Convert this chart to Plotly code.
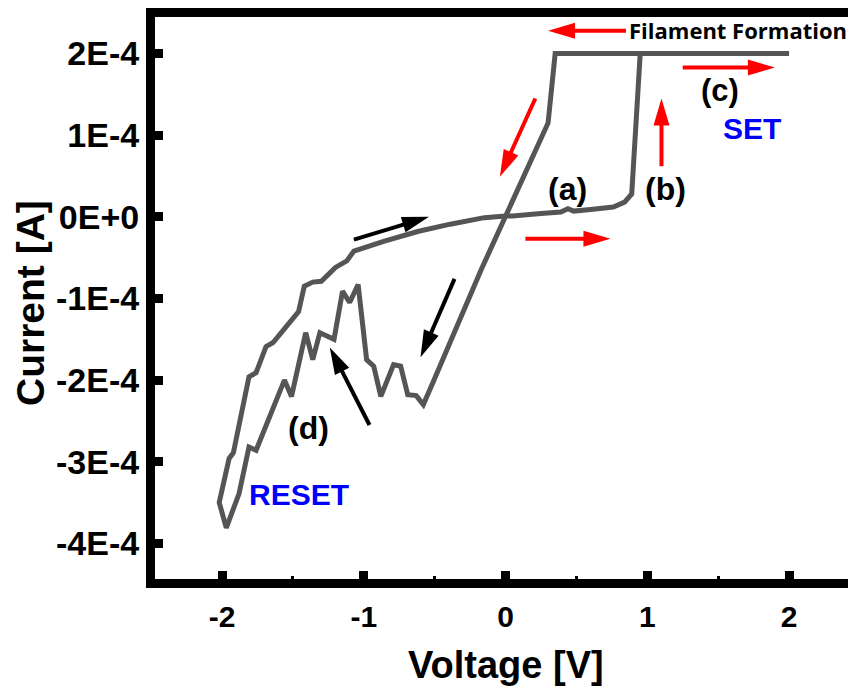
import math
import plotly.graph_objects as go

# I-V sweep (voltage in V, current in A)
voltage = [0.00, 0.05, 0.25, 0.39, 0.44, 0.48, 0.60, 0.76, 0.84, 0.89, 0.95, 2.00,
           0.35, 0.30, 0.00, -0.17, -0.51, -0.58, -0.63, -0.69, -0.74, -0.79, -0.88,
           -0.93, -0.98, -1.04, -1.10, -1.15, -1.21, -1.31, -1.36, -1.41, -1.51, -1.56,
           -1.76, -1.81, -1.88, -1.97, -2.02, -1.95, -1.92, -1.81, -1.76, -1.69, -1.64,
           -1.55, -1.46, -1.42, -1.36, -1.30, -1.24, -1.20, -1.12, -1.07, -0.86, -0.62,
           -0.39, -0.15, 0.00]
current = [0.01e-4, 0.01e-4, 0.04e-4, 0.06e-4, 0.10e-4, 0.07e-4, 0.09e-4, 0.12e-4, 0.18e-4,
           0.28e-4, 2.00e-4, 2.00e-4,
           2.00e-4, 1.15e-4, 0.00e-4, -0.64e-4, -2.02e-4, -2.30e-4, -2.19e-4, -2.18e-4,
           -1.83e-4, -1.81e-4, -2.20e-4,
           -1.83e-4, -1.75e-4, -0.83e-4, -1.05e-4, -0.91e-4, -1.50e-4, -1.42e-4, -1.75e-4,
           -1.42e-4, -2.20e-4, -2.00e-4,
           -2.86e-4, -2.82e-4, -3.39e-4, -3.81e-4, -3.50e-4, -2.96e-4, -2.89e-4, -1.96e-4,
           -1.91e-4, -1.59e-4, -1.54e-4,
           -1.34e-4, -1.16e-4, -0.85e-4, -0.80e-4, -0.79e-4, -0.68e-4, -0.62e-4, -0.54e-4,
           -0.42e-4, -0.30e-4, -0.18e-4,
           -0.09e-4, -0.01e-4, 0.01e-4]

x_tickvals = [-2, -1, 0, 1, 2]
x_ticktext = ["-2", "-1", "0", "1", "2"]
y_tickvals = [2e-4, 1e-4, 0, -1e-4, -2e-4, -3e-4, -4e-4]
y_ticktext = ["2E-4", "1E-4", "0E+0", "-1E-4", "-2E-4", "-3E-4", "-4E-4"]

# direction arrows: (tail V, tail I, head V, head I, colour)
arrows = [
    (0.85, 2.28e-4, 0.30, 2.28e-4, "#FF0000"),
    (1.25, 1.83e-4, 1.90, 1.83e-4, "#FF0000"),
    (1.10, 0.62e-4, 1.10, 1.45e-4, "#FF0000"),
    (0.21, 1.45e-4, -0.04, 0.49e-4, "#FF0000"),
    (0.14, -0.27e-4, 0.74, -0.27e-4, "#FF0000"),
    (-1.07, -0.28e-4, -0.54, 0.00e-4, "black"),
    (-0.36, -0.76e-4, -0.60, -1.72e-4, "black"),
    (-0.96, -2.55e-4, -1.24, -1.60e-4, "black"),
]

FONT = "Liberation Sans, Arial, sans-serif"

# the page body keeps its default 8 px margin, so the figure starts 8 px in;
# it ends exactly at the window's right edge and 8 px above its bottom
W_FIG, H_FIG = 848, 679
ML, MR, MT, MB = 147, 4, 9, 108
XR = [-2.473, 2.444]
YR = [-4.437e-4, 2.448e-4]
PW, PH = W_FIG - ML - MR, H_FIG - MT - MB

fig = go.Figure()
fig.add_trace(go.Scatter(x=voltage, y=current, mode="lines",
                         line=dict(color="#555555", width=5), showlegend=False,
                         hoverinfo="skip"))

axis_common = dict(showline=True, linecolor="black", linewidth=9, mirror=True,
                   showgrid=False, zeroline=False, ticks="inside", tickcolor="black",
                   tickwidth=9, ticklen=8, automargin=False)

fig.update_xaxes(range=XR, tickvals=x_tickvals, ticktext=x_ticktext,
                 ticklabelstandoff=3,
                 tickfont=dict(family=FONT, size=30, color="black", weight="bold"),
                 minor=dict(ticks="inside", ticklen=3, tickwidth=3, dtick=0.5, tick0=0,
                            tickcolor="black"),
                 **axis_common)
fig.update_yaxes(range=YR, tickvals=y_tickvals, ticktext=y_ticktext,
                 ticklabelstandoff=0,
                 tickfont=dict(family=FONT, size=34, color="black", weight="bold"),
                 **axis_common)


# arrows drawn in paper coordinates (pixel-accurate head geometry)
def to_px(v, i):
    return (ML + (v - XR[0]) / (XR[1] - XR[0]) * PW,
            MT + (YR[1] - i) / (YR[1] - YR[0]) * PH)


def to_paper(px, py):
    return ((px - ML) / PW, 1 - (py - MT) / PH)


HEAD_LEN, HEAD_W, SHAFT_W = 27, 16, 4
for tv, ti, hv, hi, col in arrows:
    tx, ty = to_px(tv, ti)
    hx, hy = to_px(hv, hi)
    d = math.hypot(hx - tx, hy - ty)
    ux, uy = (hx - tx) / d, (hy - ty) / d
    bx, by = hx - ux * HEAD_LEN, hy - uy * HEAD_LEN
    nx, ny = -uy, ux
    p0 = to_paper(tx, ty)
    p1 = to_paper(bx + ux * 2, by + uy * 2)
    fig.add_shape(type="line", xref="paper", yref="paper", x0=p0[0], y0=p0[1],
                  x1=p1[0], y1=p1[1], line=dict(color=col, width=SHAFT_W))
    pts = [(hx, hy), (bx + nx * HEAD_W / 2, by + ny * HEAD_W / 2),
           (bx - nx * HEAD_W / 2, by - ny * HEAD_W / 2)]
    pp = [to_paper(*p) for p in pts]
    path = "M {:.5f},{:.5f} L {:.5f},{:.5f} L {:.5f},{:.5f} Z".format(
        pp[0][0], pp[0][1], pp[1][0], pp[1][1], pp[2][0], pp[2][1])
    fig.add_shape(type="path", xref="paper", yref="paper", path=path,
                  fillcolor=col, line=dict(color=col, width=0))


def label(x, y, text, size, color="black", family=FONT, xanchor="center"):
    fig.add_annotation(x=x, y=y, xref="x", yref="y", text=text, showarrow=False,
                       xanchor=xanchor, yanchor="middle",
                       font=dict(family=family, size=size, color=color, weight="bold"))


label(0.86, 2.29e-4, "Filament Formation", 22, family="Open Sans, sans-serif", xanchor="left")
label(1.51, 1.55e-4, "(c)", 31)
label(1.74, 1.08e-4, "SET", 30, color="#0000FF")
label(1.13, 0.34e-4, "(b)", 32)
label(0.44, 0.34e-4, "(a)", 32)
label(-1.39, -2.59e-4, "(d)", 32)
label(-1.46, -3.40e-4, "RESET", 30, color="#0000FF")

# axis titles
fig.add_annotation(x=0, y=0, xref="x", yref="paper", yshift=-86, text="Voltage [V]",
                   showarrow=False, xanchor="center", yanchor="middle",
                   font=dict(family=FONT, size=38, color="black", weight="bold"))
fig.add_annotation(x=0, y=0.5, xref="paper", yref="paper", xshift=-125, yshift=-5,
                   text="Current [A]",
                   showarrow=False, xanchor="center", yanchor="middle", textangle=-90,
                   font=dict(family=FONT, size=39, color="black", weight="bold"))

fig.update_layout(width=W_FIG, height=H_FIG,
                  margin=dict(l=ML, r=MR, t=MT, b=MB, autoexpand=False),
                  plot_bgcolor="white", paper_bgcolor="white")

fig.write_html("out.html", config={"displayModeBar": False})
